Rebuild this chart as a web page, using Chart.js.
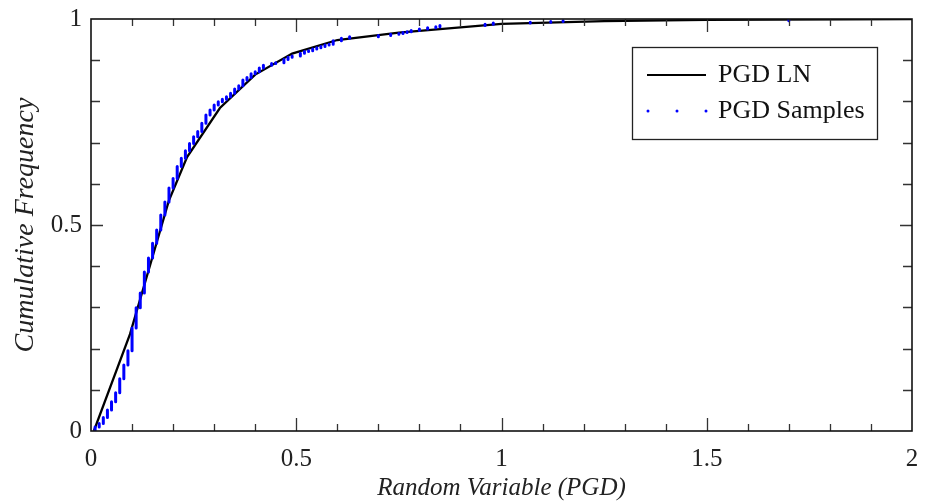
<!DOCTYPE html>
<html>
<head>
<meta charset="utf-8">
<script src="https://cdn.jsdelivr.net/npm/chart.js@4.4.1/dist/chart.umd.min.js"></script>
<style>
html,body{margin:0;padding:0;background:#fff;}
#wrap{width:933px;height:504px;position:relative;}
</style>
</head>
<body>
<div id="wrap"><canvas id="c" width="933" height="504"></canvas></div>
<script>
// ---- Data ----
const xTickLabels = [0, 0.5, 1, 1.5, 2];
const yTickLabels = [0, 0.5, 1];
const xMinorTicks = [0.1,0.2,0.3,0.4,0.5,0.6,0.7,0.8,0.9,1.0,1.1,1.2,1.3,1.4,1.5,1.6,1.7,1.8,1.9];
const xMajorTicks = [0.5, 1.0, 1.5];
const yMinorTicks = [0.1,0.2,0.3,0.4,0.5,0.6,0.7,0.8,0.9];

const seriesNames = ['PGD LN', 'PGD Samples'];

// Fitted lognormal CDF (black polyline)
const lnX = [0.007, 0.095, 0.19, 0.234, 0.314, 0.40, 0.49, 0.60, 0.75, 1.00, 1.25, 1.50, 2.00];
const lnF = [0, 0.235, 0.56, 0.665, 0.784, 0.865, 0.916, 0.949, 0.967, 0.988, 0.995, 0.998, 1.0];

// Empirical CDF of samples: distinct sample values and cumulative frequency after each
const sampleX = [0.01,0.02,0.03,0.04,0.05,0.06,0.07,0.08,0.09,0.10,0.11,0.12,0.13,0.14,0.15,0.16,0.17,0.18,0.19,0.20,
  0.21,0.22,0.23,0.24,0.25,0.26,0.27,0.28,0.29,0.30,0.31,0.32,0.33,0.34,0.35,0.36,0.37,0.38,0.39,0.40,
  0.41,0.42,0.44,0.45,0.47,0.48,0.49,0.51,0.52,0.53,0.54,0.55,0.56,0.57,0.58,0.59,0.61,0.63,0.70,0.73,
  0.75,0.76,0.77,0.78,0.80,0.82,0.84,0.85,0.96,0.98,1.07,1.12,1.15,1.70];
const sampleF = [0.010,0.018,0.033,0.051,0.071,0.093,0.127,0.160,0.195,0.250,0.299,0.335,0.386,0.420,0.456,0.488,0.524,0.556,0.590,0.613,
  0.642,0.662,0.680,0.698,0.714,0.727,0.747,0.767,0.779,0.791,0.799,0.805,0.811,0.820,0.830,0.838,0.852,0.858,0.867,0.872,
  0.881,0.888,0.892,0.894,0.902,0.907,0.910,0.917,0.921,0.923,0.927,0.930,0.933,0.937,0.939,0.947,0.953,0.957,0.960,0.963,
  0.965,0.967,0.969,0.972,0.976,0.979,0.981,0.984,0.987,0.990,0.992,0.994,0.996,1.000];

// ---- Build datasets from the arrays ----
const lnData = lnX.map((x, i) => ({x: x, y: lnF[i]}));
const sampleData = [];
sampleX.forEach((x, k) => {
  const lo = k === 0 ? 0 : sampleF[k - 1];
  sampleData.push({x: x, y: lo});
  sampleData.push({x: x, y: sampleF[k]});
  sampleData.push({x: x, y: null});
});

const FONT = "'Liberation Serif', 'Times New Roman', serif";
const TXT = '#222';

const frameAndTicks = {
  id: 'frameAndTicks',
  afterDatasetsDraw(chart) {
    const {ctx, chartArea: a, scales: {x, y}} = chart;
    ctx.save();
    ctx.strokeStyle = '#333';
    ctx.lineWidth = 1.3;
    ctx.beginPath();
    xMinorTicks.forEach(v => {
      const px = Math.round(x.getPixelForValue(v)) + 0.5;
      const len = xMajorTicks.some(m => Math.abs(m - v) < 1e-9) ? 13 : 7;
      ctx.moveTo(px, a.bottom); ctx.lineTo(px, a.bottom - len);
      ctx.moveTo(px, a.top); ctx.lineTo(px, a.top + len);
    });
    yMinorTicks.forEach(v => {
      const py = Math.round(y.getPixelForValue(v)) + 0.5;
      const len = Math.abs(v - 0.5) < 1e-9 ? 12 : 9;
      ctx.moveTo(a.left, py); ctx.lineTo(a.left + len, py);
      ctx.moveTo(a.right, py); ctx.lineTo(a.right - len, py);
    });
    ctx.stroke();
    ctx.strokeStyle = '#111';
    ctx.lineWidth = 1.6;
    ctx.strokeRect(a.left, a.top, a.right - a.left, a.bottom - a.top);
    ctx.restore();
  },
  afterDraw(chart) {
    const {ctx, chartArea: a} = chart;
    const bw = 245, bh = 92;
    const bx = a.right - 280, by = a.top + 28;
    ctx.save();
    ctx.fillStyle = '#fff';
    ctx.fillRect(bx, by, bw, bh);
    ctx.strokeStyle = '#222';
    ctx.lineWidth = 1.3;
    ctx.strokeRect(bx + 0.5, by + 0.5, bw, bh);
    ctx.strokeStyle = '#000';
    ctx.lineWidth = 2.2;
    ctx.beginPath();
    ctx.moveTo(bx + 15, by + 28); ctx.lineTo(bx + 74, by + 28);
    ctx.stroke();
    ctx.fillStyle = '#0000ff';
    [16, 45, 74].forEach(dx => {
      ctx.beginPath(); ctx.arc(bx + dx, by + 64, 1.5, 0, Math.PI * 2); ctx.fill();
    });
    ctx.fillStyle = '#111';
    ctx.font = "26px " + FONT;
    ctx.textBaseline = 'middle';
    ctx.textAlign = 'left';
    ctx.fillText(seriesNames[0], bx + 86, by + 28);
    ctx.fillText(seriesNames[1], bx + 86, by + 64);
    ctx.restore();
  }
};

new Chart(document.getElementById('c'), {
  type: 'line',
  data: {
    datasets: [
      {
        label: seriesNames[0],
        data: lnData,
        borderColor: '#000',
        borderWidth: 2.3,
        pointRadius: 0,
        tension: 0,
        fill: false,
        order: 2
      },
      {
        label: seriesNames[1],
        data: sampleData,
        borderColor: '#0000ff',
        borderWidth: 3,
        borderCapStyle: 'round',
        pointRadius: 0,
        spanGaps: false,
        tension: 0,
        fill: false,
        order: 1
      }
    ]
  },
  options: {
    responsive: false,
    animation: false,
    devicePixelRatio: 1,
    layout: {padding: {top: 19, right: 21, left: 0, bottom: 0}},
    plugins: {legend: {display: false}, tooltip: {enabled: false}},
    scales: {
      x: {
        type: 'linear', min: 0, max: 2,
        afterBuildTicks: s => { s.ticks = xTickLabels.map(v => ({value: v})); },
        afterFit: s => { s.height = 73; s.paddingLeft = 0; s.paddingRight = 0; },
        grid: {display: false, drawTicks: false},
        border: {display: false},
        ticks: {font: {family: FONT, size: 25}, color: TXT, padding: 13, maxRotation: 0, autoSkip: false,
                callback: v => String(v)},
        title: {display: true, text: 'Random Variable (PGD)', color: TXT,
                font: {family: FONT, size: 25, style: 'italic'}, padding: {top: 0, bottom: 1}}
      },
      y: {
        type: 'linear', min: 0, max: 1,
        afterBuildTicks: s => { s.ticks = yTickLabels.map(v => ({value: v})); },
        afterFit: s => { s.width = 91; s.paddingTop = 0; s.paddingBottom = 0; },
        grid: {display: false, drawTicks: false},
        border: {display: false},
        ticks: {font: {family: FONT, size: 25}, color: TXT, padding: 9, autoSkip: false,
                callback: v => String(v)},
        title: {display: true, text: 'Cumulative Frequency', color: TXT,
                font: {family: FONT, size: 28, style: 'italic'}, padding: {top: 9, bottom: 0}}
      }
    }
  },
  plugins: [frameAndTicks]
});
</script>
</body>
</html>
